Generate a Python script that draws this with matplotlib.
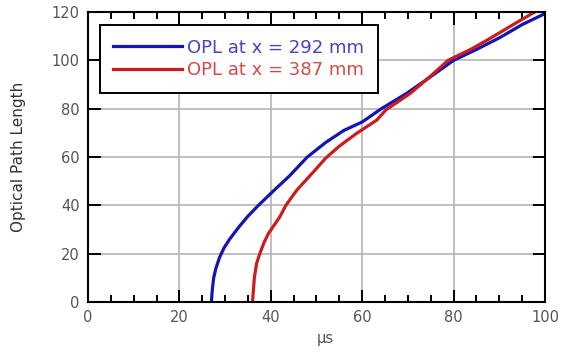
import matplotlib
matplotlib.use("Agg")
import matplotlib.pyplot as plt
from matplotlib.ticker import MultipleLocator

plt.rcParams['font.family'] = ['DejaVu Sans']

# OPL traces read at two positions along the bar
t_292 = [27.0, 27.2, 27.5, 28.0, 28.8, 29.8, 31.0, 33.0, 35.0, 37.3, 40.6, 44.0,
         48.0, 52.0, 56.0, 60.0, 64.2, 69.7, 74.8, 80.0, 85.0, 90.0, 95.0, 99.6]
opl_292 = [0, 5, 10, 14, 18.5, 22.5, 26, 31, 35.5, 40, 46, 52,
           60, 66, 71, 74.5, 80, 86.3, 93, 100, 104.5, 109.3, 114.8, 119]

t_387 = [36.0, 36.2, 36.4, 36.9, 37.6, 38.5, 39.5, 42.0, 43.3, 45.7, 49.7, 52.0,
         55.0, 58.8, 63.2, 65.2, 70.5, 74.8, 78.8, 84.0, 88.0, 94.1, 98.2]
opl_387 = [0, 5, 10, 16, 20, 24.5, 28.4, 35.3, 40, 46.3, 54.6, 59.5,
           64.5, 69.8, 75.3, 79.5, 86.3, 93.2, 100, 104.8, 109.1, 116, 120.5]

blue = '#1414b4'
red = '#cc1c1c'
grey_txt = '#555555'

fig = plt.figure(figsize=(5.63, 3.54), dpi=100)
ax = fig.add_axes([0.1563, 0.147, 0.8117, 0.819])

ax.plot(t_292, opl_292, color=blue, lw=2.3, label='OPL at x = 292 mm')
ax.plot(t_387, opl_387, color=red, lw=2.3, label='OPL at x = 387 mm')

ax.set_xlim(0, 100)
ax.set_ylim(0, 120)
ax.xaxis.set_major_locator(MultipleLocator(20))
ax.xaxis.set_minor_locator(MultipleLocator(5))
ax.yaxis.set_major_locator(MultipleLocator(20))

ax.grid(True, which='major', color='#b4b4b4', lw=1.2)
ax.set_axisbelow(True)
for s in ax.spines.values():
    s.set_linewidth(1.5)
ax.tick_params(which='both', direction='in', top=True, right=True,
               width=1.4, labelsize=10.5, labelcolor=grey_txt, pad=6)
ax.tick_params(which='major', length=9)
ax.tick_params(which='minor', length=5)

ax.set_xlabel('µs', fontsize=10.5, color=grey_txt)
ax.set_ylabel('Optical Path Length', fontsize=11, color='#333333')
ax.xaxis.set_label_coords(0.52, -0.1)
ax.yaxis.set_label_coords(-0.135, 0.5)

leg = ax.legend(loc='upper left', bbox_to_anchor=(0.026, 0.955), fontsize=13,
                frameon=True, fancybox=False, framealpha=1, edgecolor='black',
                handlelength=3.8, handletextpad=0.3, borderpad=0.75,
                labelspacing=0.25, borderaxespad=0)
leg.get_frame().set_linewidth(1.4)
for txt, c in zip(leg.get_texts(), [blue, red]):
    txt.set_color(c)
    txt.set_alpha(0.8)

fig.savefig('out.png', dpi=100)
